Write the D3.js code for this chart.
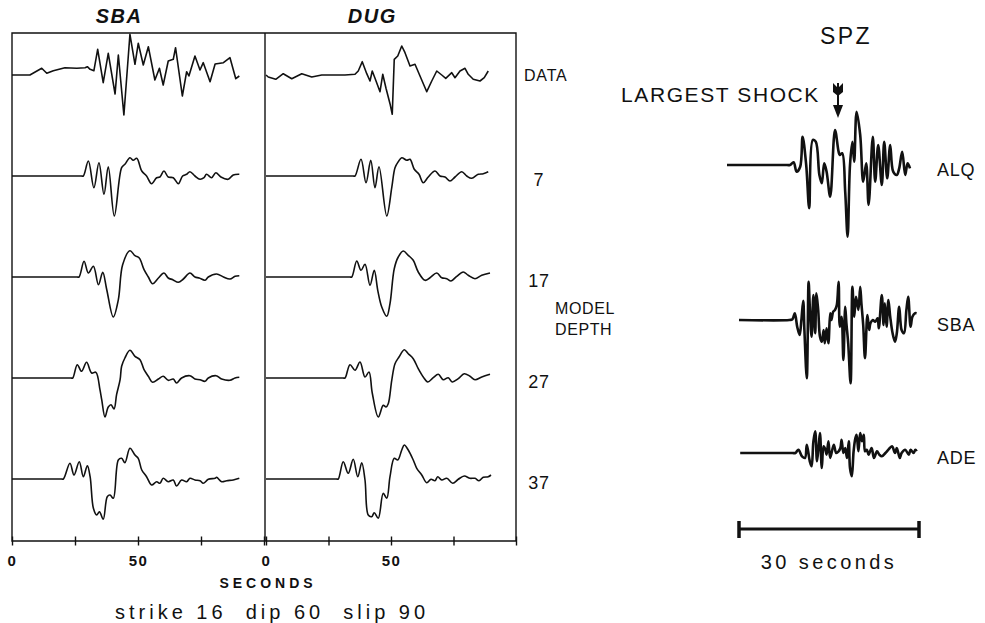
<!DOCTYPE html>
<html>
<head>
<meta charset="utf-8">
<script src="https://cdn.jsdelivr.net/npm/d3@7"></script>
<style>
  body { margin: 0; background: #fff; }
  svg { display: block; font-family: "Liberation Sans", Arial, sans-serif; }
</style>
</head>
<body>
<div id="chart"></div>
<script>
// left panels: observed long-period trace, then synthetics for each model depth
var rowLabels = ["DATA", "7", "17", "27", "37"];
var stationTitles = ["SBA", "DUG"];
var secTicks = [0, 25, 50, 75, 100];
var secLabels = [0, 50];

// [seconds, amplitude]
var sbaData = [[0,0],[7.1,0],[11.8,0.67],[13.8,0.17],[16.4,0.43],[21,0.73],[25.7,0.67],[29,0.73],[29.9,0.83],[31,0.57],[32.5,0.43],[34,2.57],[36.2,-0.77],[38.2,2.17],[40.9,-1.9],[42.2,2.0],[44.4,-4.0],[46.8,4.07],[48.8,1.07],[50.1,3.17],[52.1,1.0],[54.1,2.83],[56.7,-0.5],[58.5,0.67],[60,-1.0],[62,1.4],[64,1.57],[64.9,2.73],[67.6,-2.1],[69.3,0.33],[70.2,-0.1],[72.6,1.9],[74.6,0.5],[75.9,1.23],[78.6,-0.67],[80.6,1.1],[83.9,1.23],[86.5,1.73],[88.8,-0.37],[90.2,-0.1]];
var sba7 = [[0,0],[27.5,0],[28.3,0],[30.3,1.5],[32.5,-1.17],[34.5,1.33],[36.5,-1.83],[38.2,0.93],[40.6,-4.0],[43.5,0.83],[44.8,1.17],[46.8,1.83],[48.1,1.57],[49.5,1.77],[51.5,0.5],[53.4,0],[55.4,-0.77],[57.4,-0.17],[58.7,-0.1],[60.3,0.5],[62,-0.1],[64,-0.17],[66,-0.77],[67.7,0],[69.3,0.17],[70.6,0.43],[72.6,0],[74.6,-0.33],[76.2,-0.17],[77.2,0.17],[79.2,-0.17],[80.9,0.33],[82.9,-0.1],[85.8,-0.33],[87.8,0.1],[90.2,0.17]];
var sba17 = [[0,0],[25.8,0],[26.6,0],[28.6,1.57],[30.3,0.4],[32.3,1.07],[34.3,-0.77],[36,0.47],[37.6,-1.27],[40.2,-4.0],[42.2,-2.27],[43.9,1.23],[46.8,2.63],[48.8,2.13],[50.5,1.9],[52.4,0.73],[54.1,0],[55.8,-0.67],[58.1,-0.1],[60.3,0.4],[62,-0.1],[63.8,-0.27],[66,-0.53],[68,-0.2],[70.6,0.4],[72.6,0],[74.3,-0.1],[76.6,-0.33],[77.9,0],[81.2,0.3],[83.9,0],[86.5,-0.2],[88.5,0.07],[90.2,0.13]];
var sba27 = [[0,0],[23.3,0],[24.1,0],[25.9,1.33],[27.6,0.67],[29.6,1.57],[31.6,0.5],[33.3,0.57],[34.9,-1.17],[35.6,-2.17],[36.9,-3.9],[38.2,-2.9],[39.3,-2.67],[40.5,-3.1],[41.5,-1.67],[42.9,-0.17],[43.5,1.17],[44.8,2.0],[46.8,2.77],[48.8,2.17],[50.8,1.83],[52.4,0.83],[54.1,0.17],[55.8,-0.43],[58.1,-0.1],[60,0.17],[62,-0.23],[64,-0.1],[65.3,-0.5],[67.3,0],[70.6,0.23],[72.6,-0.1],[74.6,-0.17],[76.6,-0.33],[77.9,0],[81,0.23],[83.2,-0.1],[86.5,-0.23],[88.5,0],[90.2,0.07]];
var sba37 = [[0,0],[19.6,0],[20.4,0],[23,1.57],[24.6,0.4],[26.7,1.73],[28.3,0.23],[29.9,1.33],[31,0.23],[32.3,-2.93],[33.6,-3.6],[34.7,-3.27],[36.2,-4.03],[37.8,-1.77],[38.9,-1.6],[40.2,-1.93],[42.2,1.9],[43.5,2.07],[44.8,1.63],[46.8,3.07],[48.8,2.4],[50.1,2.07],[51.5,0.9],[53.4,0.23],[55.4,-0.6],[57.4,-0.27],[58.7,-0.43],[60,0.07],[62,-0.27],[64,-0.1],[65.3,-0.7],[67.3,-0.1],[69.3,-0.27],[70.6,0.07],[72.6,-0.1],[74.6,-0.17],[75.9,-0.43],[77.9,-0.03],[80.6,0.07],[81.2,0.17],[83.2,-0.27],[85.2,-0.17],[87.8,-0.1],[90.2,0.07]];

var dugData = [[0,0],[0.9,-0.2],[3.9,-0.43],[6.9,0.13],[10.3,-0.37],[14.3,0.13],[18.3,-0.2],[22.3,0],[27.6,0],[31.6,0],[35.6,0.07],[36.9,0.4],[38.5,1.33],[40.3,0.13],[41.6,-0.6],[42.5,0.4],[43.9,-0.53],[45.6,-1.67],[46.7,0.07],[48,-1.33],[49.6,-2.87],[50.5,-3.93],[51.3,1.57],[52.7,1.9],[54.3,2.9],[55.6,2.23],[57.6,0.9],[59.6,1.07],[61.6,-0.1],[64.3,-1.67],[66.3,-0.6],[68.3,0.4],[70.3,0],[71.9,-0.33],[74.3,0.23],[75.6,-0.27],[77.6,0.4],[79.6,0.67],[80.9,0.07],[82.9,-0.43],[85.6,-0.6],[87.3,-0.27],[88.9,0.4]];
var dug7 = [[0,0],[34.8,0],[35.6,0],[38,1.67],[40,-0.67],[41.9,1.57],[43.6,-1.17],[45.2,0.93],[48.3,-4.0],[50.3,-1.17],[51.6,0.83],[52.9,1.43],[54.3,1.83],[56.3,1.57],[57.6,1.67],[59.3,0.67],[61.2,0.17],[62.9,-0.67],[64.9,-0.1],[67.6,0.5],[69.6,0],[71.6,-0.1],[73.6,-0.5],[75.6,-0.1],[78.3,0.43],[80.3,0],[82.3,-0.23],[84.9,0.17],[86.9,0.23],[88.9,0.43]];
var dug17 = [[0,0],[33.5,0],[34.3,0],[36.3,1.6],[38,0.67],[39.6,1.27],[41.6,-0.83],[43.3,0.67],[44.7,-1.33],[46.3,-3.0],[48.3,-3.93],[49.6,-2.67],[51.3,0.83],[52.9,2.0],[54.9,2.6],[56.9,2.17],[58.9,1.67],[60.9,0.5],[63.6,-0.33],[65.6,-0.07],[68.3,0.4],[70.3,-0.07],[72.3,-0.17],[74,-0.4],[76.3,0.07],[78.9,0.5],[80.9,0.17],[83.6,-0.17],[86.3,0.17],[89.6,0.4]];
var dug27 = [[0,0],[30.8,0],[31.6,0],[33.6,1.33],[35.6,0.77],[37.6,1.6],[39.6,0.1],[41.2,0.6],[42.5,-1.5],[44.9,-3.9],[46.9,-2.73],[48,-2.9],[48.9,-2.57],[50.3,-0.23],[51.6,1.43],[53.2,2.1],[55.3,2.83],[56.9,2.43],[58.9,1.93],[60.9,0.93],[62.9,0.1],[64.7,-0.4],[66.9,0.03],[68.9,0.37],[70.9,-0.17],[72.9,0.03],[74.5,-0.4],[76.9,-0.07],[79.3,0.43],[81.6,0.17],[83.6,-0.17],[86.3,0.1],[89.6,0.37]];
var dug37 = [[0,0],[28.1,0],[28.9,0],[30.9,1.73],[32.9,0.57],[34.9,1.97],[36.7,0.23],[38.3,1.63],[39.6,-0.1],[40.9,-3.6],[42.3,-3.77],[43.3,-3.37],[44.9,-3.93],[46.9,-1.43],[48.3,-1.93],[49.6,0.23],[51.3,2.07],[52.7,1.9],[54.3,2.9],[55.3,3.4],[56.9,2.9],[58.9,1.9],[60.3,1.07],[62.3,0.4],[64.3,-0.37],[66,-0.03],[67.6,-0.17],[68.7,0.23],[70.3,-0.1],[72.3,0.07],[74.7,-0.43],[76.9,-0.03],[79.3,0.3],[81.6,0.07],[83.6,0.07],[85.2,-0.17],[86.9,0.17],[88.9,0.23],[90,0.4]];

// right panel: short-period vertical (SPZ) records, seconds from the scale bar origin
var spzStations = ["ALQ", "SBA", "ADE"];
var alqSpz = [[-2,0],[8,0],[8.5,0],[9.1,0.27],[9.6,-0.67],[10.2,-0.17],[10.6,2.83],[11.2,0],[11.7,-4.33],[12.3,2.5],[12.8,2.33],[13.4,-1.0],[13.8,-1.83],[14.2,0.17],[14.6,-0.67],[15.2,-3.17],[16,3.5],[16.6,1.33],[16.8,1.0],[17.2,1.17],[17.7,-2.67],[18.1,-7.17],[18.5,0],[18.9,2.33],[19.2,0.33],[19.6,5.33],[20.2,3.0],[20.7,-1.67],[21.2,0.17],[21.6,-4.0],[22.3,2.83],[22.7,-1.67],[23.2,2.0],[23.8,-2.0],[24.2,2.33],[24.7,-1.33],[25.2,2.0],[25.7,-0.67],[26.3,-1.0],[26.7,-0.33],[27.2,1.33],[27.7,-1.0],[28.1,0.17],[28.5,-0.33]];
var sbaSpz = [[0,0],[8.4,0],[8.9,0.07],[9.3,0.67],[9.7,-0.67],[10.1,-1.5],[10.4,0],[10.7,1.93],[10.9,-1.0],[11.3,-5.83],[11.6,3.83],[11.8,1.33],[12.1,-1.67],[12.4,2.5],[12.7,-1.33],[12.9,2.67],[13.2,1.0],[13.5,-1.67],[13.8,-2.17],[14.1,-1.0],[14.3,-2.33],[14.6,-0.83],[14.9,-2.33],[15.2,0.67],[15.4,0],[15.7,0.83],[16,1.0],[16.3,1.5],[16.6,3.83],[16.8,-0.67],[17.1,0.33],[17.4,-4.0],[17.7,1.33],[17.9,-0.33],[18.2,-2.33],[18.6,-6.33],[18.9,3.33],[19.2,0.33],[19.5,2.33],[19.9,1.0],[20.2,3.33],[20.4,1.67],[20.7,-0.5],[21,-3.83],[21.4,0.5],[21.7,-1.0],[21.9,-0.33],[22.3,0],[22.7,-0.17],[23.1,0.17],[23.3,-0.83],[23.8,2.5],[24.1,-0.5],[24.3,1.67],[24.6,-0.67],[24.9,2.0],[25.2,0.33],[25.6,-1.33],[26,-2.17],[26.3,-1.33],[26.7,1.33],[27.1,-1.0],[27.5,-1.33],[27.9,1.0],[28.2,2.33],[28.6,-0.67],[28.9,0.33],[29.3,0.67],[29.6,0.67]];
var adeSpz = [[0.2,0],[8.9,0],[9.4,0],[9.9,0.33],[10.5,-0.33],[11,-0.5],[11.3,0.83],[11.8,-0.83],[12.1,-1.33],[12.4,1.17],[12.7,2.17],[13,-0.83],[13.3,0.83],[13.5,2.0],[13.8,-1.5],[14.1,0.67],[14.4,0.33],[14.6,-0.17],[14.9,1.17],[15.2,-0.5],[15.8,0.83],[16.2,0],[16.6,0.17],[16.9,0.5],[17.1,1.33],[17.4,0],[17.7,0.5],[18,-0.5],[18.3,1.17],[18.5,-1.5],[18.8,-2.33],[19.1,0.17],[19.4,1.5],[19.6,1.83],[19.9,0.17],[20.2,2.0],[20.5,1.17],[20.8,1.83],[21,0.17],[21.3,0.33],[21.6,-0.17],[22.1,0.5],[22.5,-0.5],[23,0.17],[23.4,-0.17],[23.8,-0.33],[24.4,0],[24.9,0.33],[25.5,0.67],[26,0],[26.3,0.5],[26.8,-0.5],[27.1,0],[27.7,0.33],[28.3,-0.17],[28.6,0.33],[29.1,0],[29.4,0.33],[29.6,0.17]];
var largestShockSec = 16.5;
var scaleBarSec = [0, 30];

var sbaTraces = [sbaData, sba7, sba17, sba27, sba37];
var dugTraces = [dugData, dug7, dug17, dug27, dug37];
var spzTraces = [alqSpz, sbaSpz, adeSpz];

var width = 985, height = 623;
var svg = d3.select("#chart").append("svg")
  .attr("width", width)
  .attr("height", height);

var ink = "#111";
var boxTop = 33, boxBottom = 541;

var xSba = d3.scaleLinear().domain([0, 100]).range([12, 264]);
var xDug = d3.scaleLinear().domain([0, 100]).range([266, 516]);
var rowY = d3.scalePoint().domain(rowLabels).range([75, 479]);
var amp = d3.scaleLinear().domain([-1, 1]).range([10, -10]);

// frame of the two long-period panels
svg.append("path")
  .attr("d", "M" + xSba(0) + "," + boxTop + "H" + xDug(100) + "V" + boxBottom + "H" + xSba(0) + "Z" +
    "M" + (xSba(100) + 1) + "," + boxTop + "V" + boxBottom)
  .attr("fill", "none")
  .attr("stroke", ink)
  .attr("stroke-width", 1.4);

[xSba, xDug].forEach(function (x) {
  var axis = d3.axisBottom(x)
    .tickValues(secTicks)
    .tickSize(9)
    .tickPadding(10)
    .tickFormat(function (d) { return secLabels.indexOf(d) >= 0 ? d : ""; });
  var g = svg.append("g")
    .attr("transform", "translate(0," + (boxBottom - 4.5) + ")")
    .call(axis);
  g.select(".domain").remove();
  g.selectAll(".tick line").attr("stroke", ink).attr("stroke-width", 1.4);
  g.selectAll(".tick text")
    .attr("fill", ink)
    .style("font-family", "'Liberation Sans', Arial, sans-serif")
    .style("font-size", "15px")
    .style("font-weight", "bold")
    .style("letter-spacing", "1.5px");
});

svg.append("text")
  .attr("x", (xSba(100) + xDug(0)) / 2 + 3)
  .attr("y", 588)
  .attr("text-anchor", "middle")
  .style("font-size", "14px")
  .style("font-weight", "bold")
  .style("letter-spacing", "4px")
  .attr("fill", ink)
  .text("SECONDS");

svg.append("text")
  .attr("x", 115)
  .attr("y", 619)
  .style("font-size", "20px")
  .style("letter-spacing", "4px")
  .style("white-space", "pre")
  .attr("fill", ink)
  .text("strike 16  dip 60  slip 90");

// station titles
[xSba, xDug].forEach(function (x, i) {
  svg.append("text")
    .attr("x", x(42.5))
    .attr("y", 23)
    .attr("text-anchor", "middle")
    .style("font-size", "20px")
    .style("font-weight", "bold")
    .style("font-style", "italic")
    .style("letter-spacing", "1.5px")
    .attr("fill", ink)
    .text(stationTitles[i]);
});

// traces
var line = function (x, row, curve) {
  return d3.line()
    .x(function (d) { return x(d[0]); })
    .y(function (d) { return rowY(row) + amp(d[1]); })
    .curve(curve);
};

[[xSba, sbaTraces], [xDug, dugTraces]].forEach(function (p) {
  var x = p[0];
  svg.append("g").selectAll("path")
    .data(p[1])
    .join("path")
    .attr("d", function (d, i) {
      var c = i === 0 ? d3.curveLinear : d3.curveCatmullRom.alpha(0.5);
      return line(x, rowLabels[i], c)(d);
    })
    .attr("fill", "none")
    .attr("stroke", ink)
    .attr("stroke-width", 1.6)
    .attr("stroke-linejoin", "round");
});

// row labels
svg.append("g").selectAll("text")
  .data(rowLabels)
  .join("text")
  .attr("x", function (d, i) { return i === 0 ? 524 : 539; })
  .attr("y", function (d, i) { return rowY(d) + (i === 0 ? 6 : 10); })
  .attr("text-anchor", function (d, i) { return i === 0 ? "start" : "middle"; })
  .style("font-size", function (d, i) { return i === 0 ? "16px" : "18px"; })
  .style("letter-spacing", "0.8px")
  .attr("fill", ink)
  .text(function (d) { return d; });

svg.append("text")
  .attr("x", 555)
  .attr("y", 314)
  .style("font-size", "16px")
  .style("letter-spacing", "0.6px")
  .attr("fill", ink)
  .selectAll("tspan")
  .data(["MODEL", "DEPTH"])
  .join("tspan")
  .attr("x", 555)
  .attr("dy", function (d, i) { return i === 0 ? 0 : 21; })
  .text(function (d) { return d; });

// SPZ panel
var xSpz = d3.scaleLinear().domain(scaleBarSec).range([739, 919]);
var spzY = d3.scaleOrdinal().domain(spzStations).range([165, 320, 453]);

svg.append("text")
  .attr("x", 846)
  .attr("y", 44)
  .attr("text-anchor", "middle")
  .style("font-size", "23px")
  .style("letter-spacing", "2.5px")
  .attr("fill", ink)
  .text("SPZ");

svg.append("g").selectAll("path")
  .data(spzTraces)
  .join("path")
  .attr("d", function (d, i) {
    return d3.line()
      .x(function (p) { return xSpz(p[0]); })
      .y(function (p) { return spzY(spzStations[i]) + amp(p[1]); })
      .curve(d3.curveCatmullRom.alpha(0.5))(d);
  })
  .attr("fill", "none")
  .attr("stroke", ink)
  .attr("stroke-width", 2.6)
  .attr("stroke-linejoin", "round");

svg.append("g").selectAll("text")
  .data(spzStations)
  .join("text")
  .attr("x", 937)
  .attr("y", function (d) { return spzY(d) + 11; })
  .style("font-size", "18px")
  .style("letter-spacing", "0.8px")
  .attr("fill", ink)
  .text(function (d) { return d; });

// largest shock marker
var ax = xSpz(largestShockSec);
svg.append("text")
  .attr("x", 621)
  .attr("y", 102)
  .style("font-size", "21px")
  .style("letter-spacing", "1.6px")
  .attr("fill", ink)
  .text("LARGEST SHOCK");
svg.append("line")
  .attr("x1", ax).attr("x2", ax)
  .attr("y1", 83).attr("y2", 110)
  .attr("stroke", ink).attr("stroke-width", 2);
svg.append("path")
  .attr("d", "M" + (ax - 5) + ",83 L" + ax + ",88 L" + (ax + 5) + ",83 L" + (ax + 5) + ",92 L" + ax + ",96 L" + (ax - 5) + ",92 Z")
  .attr("fill", ink);
svg.append("path")
  .attr("d", "M" + (ax - 5) + ",105 L" + (ax + 5) + ",105 L" + ax + ",118 Z")
  .attr("fill", ink);

// 30 s scale bar
var barY = 529;
svg.append("line")
  .attr("x1", xSpz(scaleBarSec[0])).attr("x2", xSpz(scaleBarSec[1]))
  .attr("y1", barY).attr("y2", barY)
  .attr("stroke", ink).attr("stroke-width", 3);
svg.append("g").selectAll("line")
  .data(scaleBarSec)
  .join("line")
  .attr("x1", function (d) { return xSpz(d); })
  .attr("x2", function (d) { return xSpz(d); })
  .attr("y1", barY - 8).attr("y2", barY + 9)
  .attr("stroke", ink).attr("stroke-width", 3.5);
svg.append("text")
  .attr("x", xSpz(15))
  .attr("y", 569)
  .attr("text-anchor", "middle")
  .style("font-size", "20px")
  .style("letter-spacing", "3.4px")
  .attr("fill", ink)
  .text((scaleBarSec[1] - scaleBarSec[0]) + " seconds");
</script>
</body>
</html>
